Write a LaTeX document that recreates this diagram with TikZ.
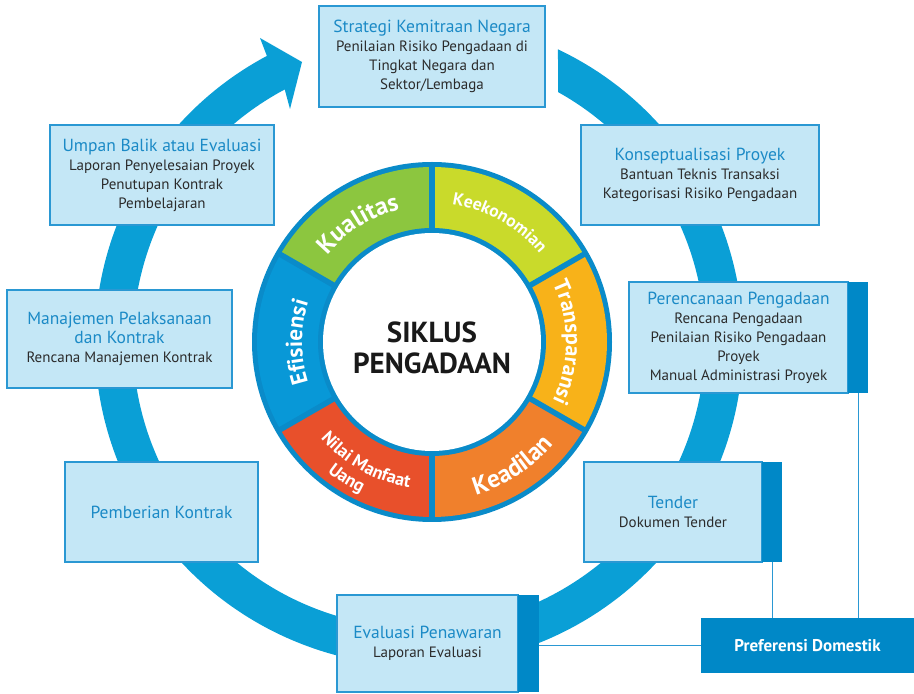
\documentclass[tikz,border=0pt]{standalone}
\usepackage{fontspec}
\setmainfont{PT Sans}
\usetikzlibrary{calc,decorations.text}

\definecolor{bandblue}{HTML}{0A9FD6}
\definecolor{wheelblue}{HTML}{0A8BC9}
\definecolor{kual}{HTML}{8CC63F}
\definecolor{keek}{HTML}{C9DA2B}
\definecolor{trans}{HTML}{F8B219}
\definecolor{keadil}{HTML}{F0802C}
\definecolor{nilai}{HTML}{E8502B}
\definecolor{efis}{HTML}{0898D7}
\definecolor{boxfill}{HTML}{C4E7F6}
\definecolor{boxline}{HTML}{2A98D3}
\definecolor{barblue}{HTML}{0088C7}
\definecolor{titleblue}{HTML}{1B8AC6}
\definecolor{bodytext}{HTML}{2B2B2B}

\tikzset{
  stagebox/.style={draw=boxline, line width=1.2pt, fill=boxfill, inner sep=0pt,
    outer sep=0pt, align=center, text=bodytext, font=\fontsize{15}{19}\selectfont},
  sidebar/.style={fill=barblue, inner sep=0pt, outer sep=0pt, minimum width=20pt, anchor=west},
  link/.style={draw=boxline, line width=0.9pt},
}
\newcommand\stagetitle[1]{{\color{titleblue}\fontsize{17.5}{20}\selectfont #1}}
\newcommand\wheeltext[3]{% font size, path, text
  \path[decorate, decoration={text along path, text align=center, text color=white,
    text={|\bfseries\fontsize{#1}{#1}\selectfont|#3}}] #2;}

\begin{document}
\begin{tikzpicture}[x=1pt, y=1pt]
\useasboundingbox (0,0) rectangle (914,694);

\coordinate (B) at (419,352);  % centre of the cycle band
\coordinate (C) at (432,352);  % centre of the principle wheel

% cycle band with arrowhead
\fill[bandblue] ($(B)+(64.6:324)$) arc[start angle=64.6, end angle=-242, radius=324]
  -- (260,656) -- (302,632) -- (290,585)
  -- ($(B)+(118:286)$) arc[start angle=-242, end angle=60.9, radius=286] -- cycle;

% principle wheel
\fill[wheelblue] (C) circle[radius=180];
\foreach \a/\b/\c in {90/150/kual, 30/90/keek, -30/30/trans, -90/-30/keadil, 210/270/nilai, 150/210/efis}
  \fill[\c] (C) -- ($(C)+(\a:175)$) arc[start angle=\a, end angle=\b, radius=175] -- cycle;
\foreach \a in {90,30,-30,-90,210,150}
  \draw[wheelblue, line width=5.5pt] ($(C)+(\a:105)$) -- ($(C)+(\a:178)$);
\fill[wheelblue] (C) circle[radius=114];
\fill[white] (C) circle[radius=109];

\wheeltext{25}{($(C)+(165:136)$) arc[start angle=165, end angle=79, radius=136]}{Kualitas}
\wheeltext{17.5}{($(C)+(105:139)$) arc[start angle=105, end angle=16, radius=139]}{Keekonomian}
\wheeltext{22}{($(C)+(45:134)$) arc[start angle=45, end angle=-45, radius=134]}{Transparansi}
\wheeltext{23}{($(C)+(225:130)$) arc[start angle=225, end angle=135, radius=130]}{Efisiensi}
\wheeltext{25}{($(C)+(-100:159)$) arc[start angle=-100, end angle=-14, radius=159]}{Keadilan}
\wheeltext{18}{($(C)+(196:147)$) arc[start angle=196, end angle=286, radius=147]}{Nilai Manfaat}
\wheeltext{18}{($(C)+(208:167)$) arc[start angle=208, end angle=268, radius=167]}{Uang}

\node[font=\bfseries\fontsize{29}{31}\selectfont, align=center, text=black!90] (hub) at (432,346.5)
  {SIKLUS\\PENGADAAN};

% stages of the cycle
\node[stagebox, minimum width=226pt, minimum height=101pt] (strat) at (432,637.5)
  {\stagetitle{Strategi Kemitraan Negara}\\Penilaian Risiko Pengadaan di\\Tingkat Negara dan\\Sektor/Lembaga};
\node[stagebox, minimum width=238pt, minimum height=100pt] (konsep) at (700,519)
  {\stagetitle{Konseptualisasi Proyek}\\Bantuan Teknis Transaksi\\Kategorisasi Risiko Pengadaan};
\node[stagebox, minimum width=219pt, minimum height=111pt] (plan) at (738.5,356.5)
  {\stagetitle{Perencanaan Pengadaan}\\Rencana Pengadaan\\Penilaian Risiko Pengadaan\\Proyek\\Manual Administrasi Proyek};
\node[sidebar, minimum height=111pt] (planbar) at (plan.east) {};
\node[stagebox, minimum width=178pt, minimum height=100pt] (tender) at (673,182)
  {\stagetitle{Tender}\\Dokumen Tender};
\node[sidebar, minimum height=100pt] (tenderbar) at (tender.east) {};
\node[stagebox, minimum width=181pt, minimum height=97pt] (evalp) at (427.5,50.5)
  {\stagetitle{Evaluasi Penawaran}\\Laporan Evaluasi};
\node[sidebar, minimum width=21pt, minimum height=97pt] (evalbar) at (evalp.east) {};
\node[stagebox, minimum width=193pt, minimum height=100pt] (pember) at (161.5,182)
  {\stagetitle{Pemberian Kontrak}};
\node[stagebox, minimum width=225pt, minimum height=98pt] (manaj) at (119.5,355)
  {\stagetitle{Manajemen Pelaksanaan}\\\stagetitle{dan Kontrak}\\Rencana Manajemen Kontrak};
\node[stagebox, minimum width=224pt, minimum height=100pt] (umpan) at (162,519)
  {\stagetitle{Umpan Balik atau Evaluasi}\\Laporan Penyelesaian Proyek\\Penutupan Kontrak\\Pembelajaran};

\node[fill=barblue, text=white, font=\bfseries\fontsize{17}{19}\selectfont, inner sep=0pt,
  minimum width=213pt, minimum height=55pt] (pref) at (807.5,48.5) {Preferensi Domestik};

% links to the domestic preference box
\draw[link] (tenderbar.south) -- (tenderbar.south |- pref.north);
\draw[link] (planbar.south) -- (planbar.south |- pref.north);
\draw[link] (evalbar.east |- pref.west) -- (pref.west);
\end{tikzpicture}
\end{document}
